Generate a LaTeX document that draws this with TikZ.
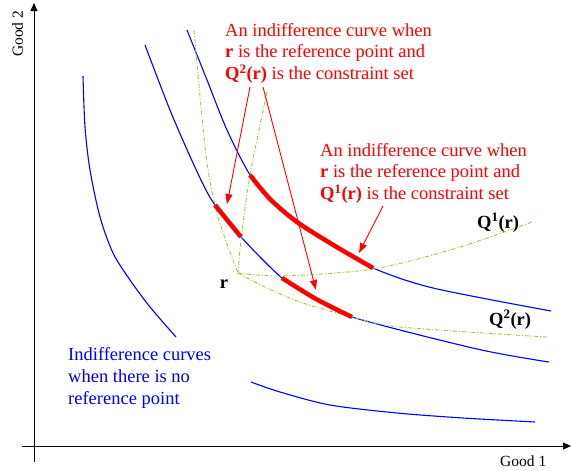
\documentclass[tikz,border=0pt]{standalone}
\usepackage{fontspec}
\setmainfont{Liberation Serif}
\usepackage{tikz}
\usetikzlibrary{arrows.meta}
\definecolor{kurve}{RGB}{0,0,255}
\definecolor{rot}{RGB}{255,0,0}
\definecolor{gelbgruen}{RGB}{154,205,50}

\tikzset{
  indiff/.style={kurve, line width=1.1pt},
  teil/.style={rot, line width=4.5pt},
  grenze/.style={gelbgruen, line width=0.9pt,
                 dash pattern=on 4pt off 2pt on 1pt off 2pt},
  zeiger/.style={rot, line width=0.9pt, -{Triangle[length=10pt,width=7pt]}},
  achse/.style={black, line width=0.9pt, -{Triangle[length=8pt,width=7pt]}},
  etikett/.style={inner sep=0pt, anchor=north west, align=left,
                  font=\fontsize{18.5}{21.7}\selectfont},
}

\begin{document}
\begin{tikzpicture}[x=1pt, y=-1pt]
      \useasboundingbox (0,0) rectangle (571,471);

      % Axes
      \coordinate (ybot) at (34,462);
      \coordinate (ytop) at (34,3);
      \coordinate (xleft) at (22,446);
      \coordinate (xright) at (571,446);
      \draw[achse] (ybot) -- (ytop);
      \draw[achse] (xleft) -- (xright);
      \node[anchor=base west, inner sep=0pt, font=\fontsize{15.5}{18}\selectfont]
        (good1) at (500,466) {Good 1};
      \node[anchor=base west, inner sep=0pt, rotate=90, font=\fontsize{15.5}{18}\selectfont]
        (good2) at (23,57) {Good 2};

      % Indifference curves without reference point
      \draw[indiff] plot[smooth] coordinates {(83,76) (85,127) (90,170) (100,217)
        (113,253) (130,280) (150,307) (176,337)};
      \draw[indiff] plot[smooth] coordinates {(145,45) (172,115) (200,178) (215,205)
        (241,237) (282,278) (316,299) (352,317) (477,349) (549,362)};
      \draw[indiff] plot[smooth] coordinates {(187,30) (207,80) (227,130) (250,175)
        (270,199) (297,222) (335,246) (373,268) (433,288) (551,311)};
      \draw[indiff] plot[smooth] coordinates {(251,382) (280,392) (330,405) (397,413)
        (463,418) (535,422)};

      % Constraint sets at r
      \coordinate (r) at (238,273);
      \draw[grenze] plot[smooth] coordinates {(194,30) (206,155) (218,217) (r)};
      \draw[grenze] plot[smooth] coordinates {(267,92) (250,175) (241,240) (r)};
      \draw[grenze] plot[smooth] coordinates {(r) (283,276) (373,269) (457,248) (532,222)};
      \draw[grenze] plot[smooth] coordinates {(r) (265,287) (300,302) (352,317)
        (400,327) (547,337)};

      % Parts of the curves
      \draw[teil] plot[smooth] coordinates {(215,205) (241,237)};
      \draw[teil] plot[smooth] coordinates {(282,278) (316,299) (352,317)};
      \draw[teil] plot[smooth] coordinates {(250,175) (270,199) (297,222) (335,246) (373,268)};

      % Labels
      \node[anchor=base, inner sep=0pt, font=\fontsize{18.5}{21.7}\selectfont\bfseries]
        (rlabel) at (224,288) {r};
      \node[anchor=base west, inner sep=0pt, font=\fontsize{18.5}{21.7}\selectfont\bfseries]
        (q1) at (477,228) {Q\textsuperscript{1}(r)};
      \node[anchor=base west, inner sep=0pt, font=\fontsize{18.5}{21.7}\selectfont\bfseries]
        (q2) at (489,325) {Q\textsuperscript{2}(r)};

      \node[etikett, rot] (text2) at (225,23) {An indifference curve when\\
        \textbf{r} is the reference point and\\
        \textbf{Q\textsuperscript{2}(r)} is the constraint set};
      \node[etikett, rot] (text1) at (320,143) {An indifference curve when\\
        \textbf{r} is the reference point and\\
        \textbf{Q\textsuperscript{1}(r)} is the constraint set};
      \node[etikett, kurve] (ohne) at (68,347.5) {Indifference curves\\
        when there is no\\ reference point};

      % Arrows
      \coordinate (a1) at (250,87);
      \coordinate (b1) at (227,204);
      \coordinate (a2) at (263,87);
      \coordinate (b2) at (316,290);
      \coordinate (a3) at (383,206);
      \coordinate (b3) at (359,253);
      \draw[zeiger] (a1) -- (b1);
      \draw[zeiger] (a2) -- (b2);
      \draw[zeiger] (a3) -- (b3);
    \end{tikzpicture}
\end{document}
